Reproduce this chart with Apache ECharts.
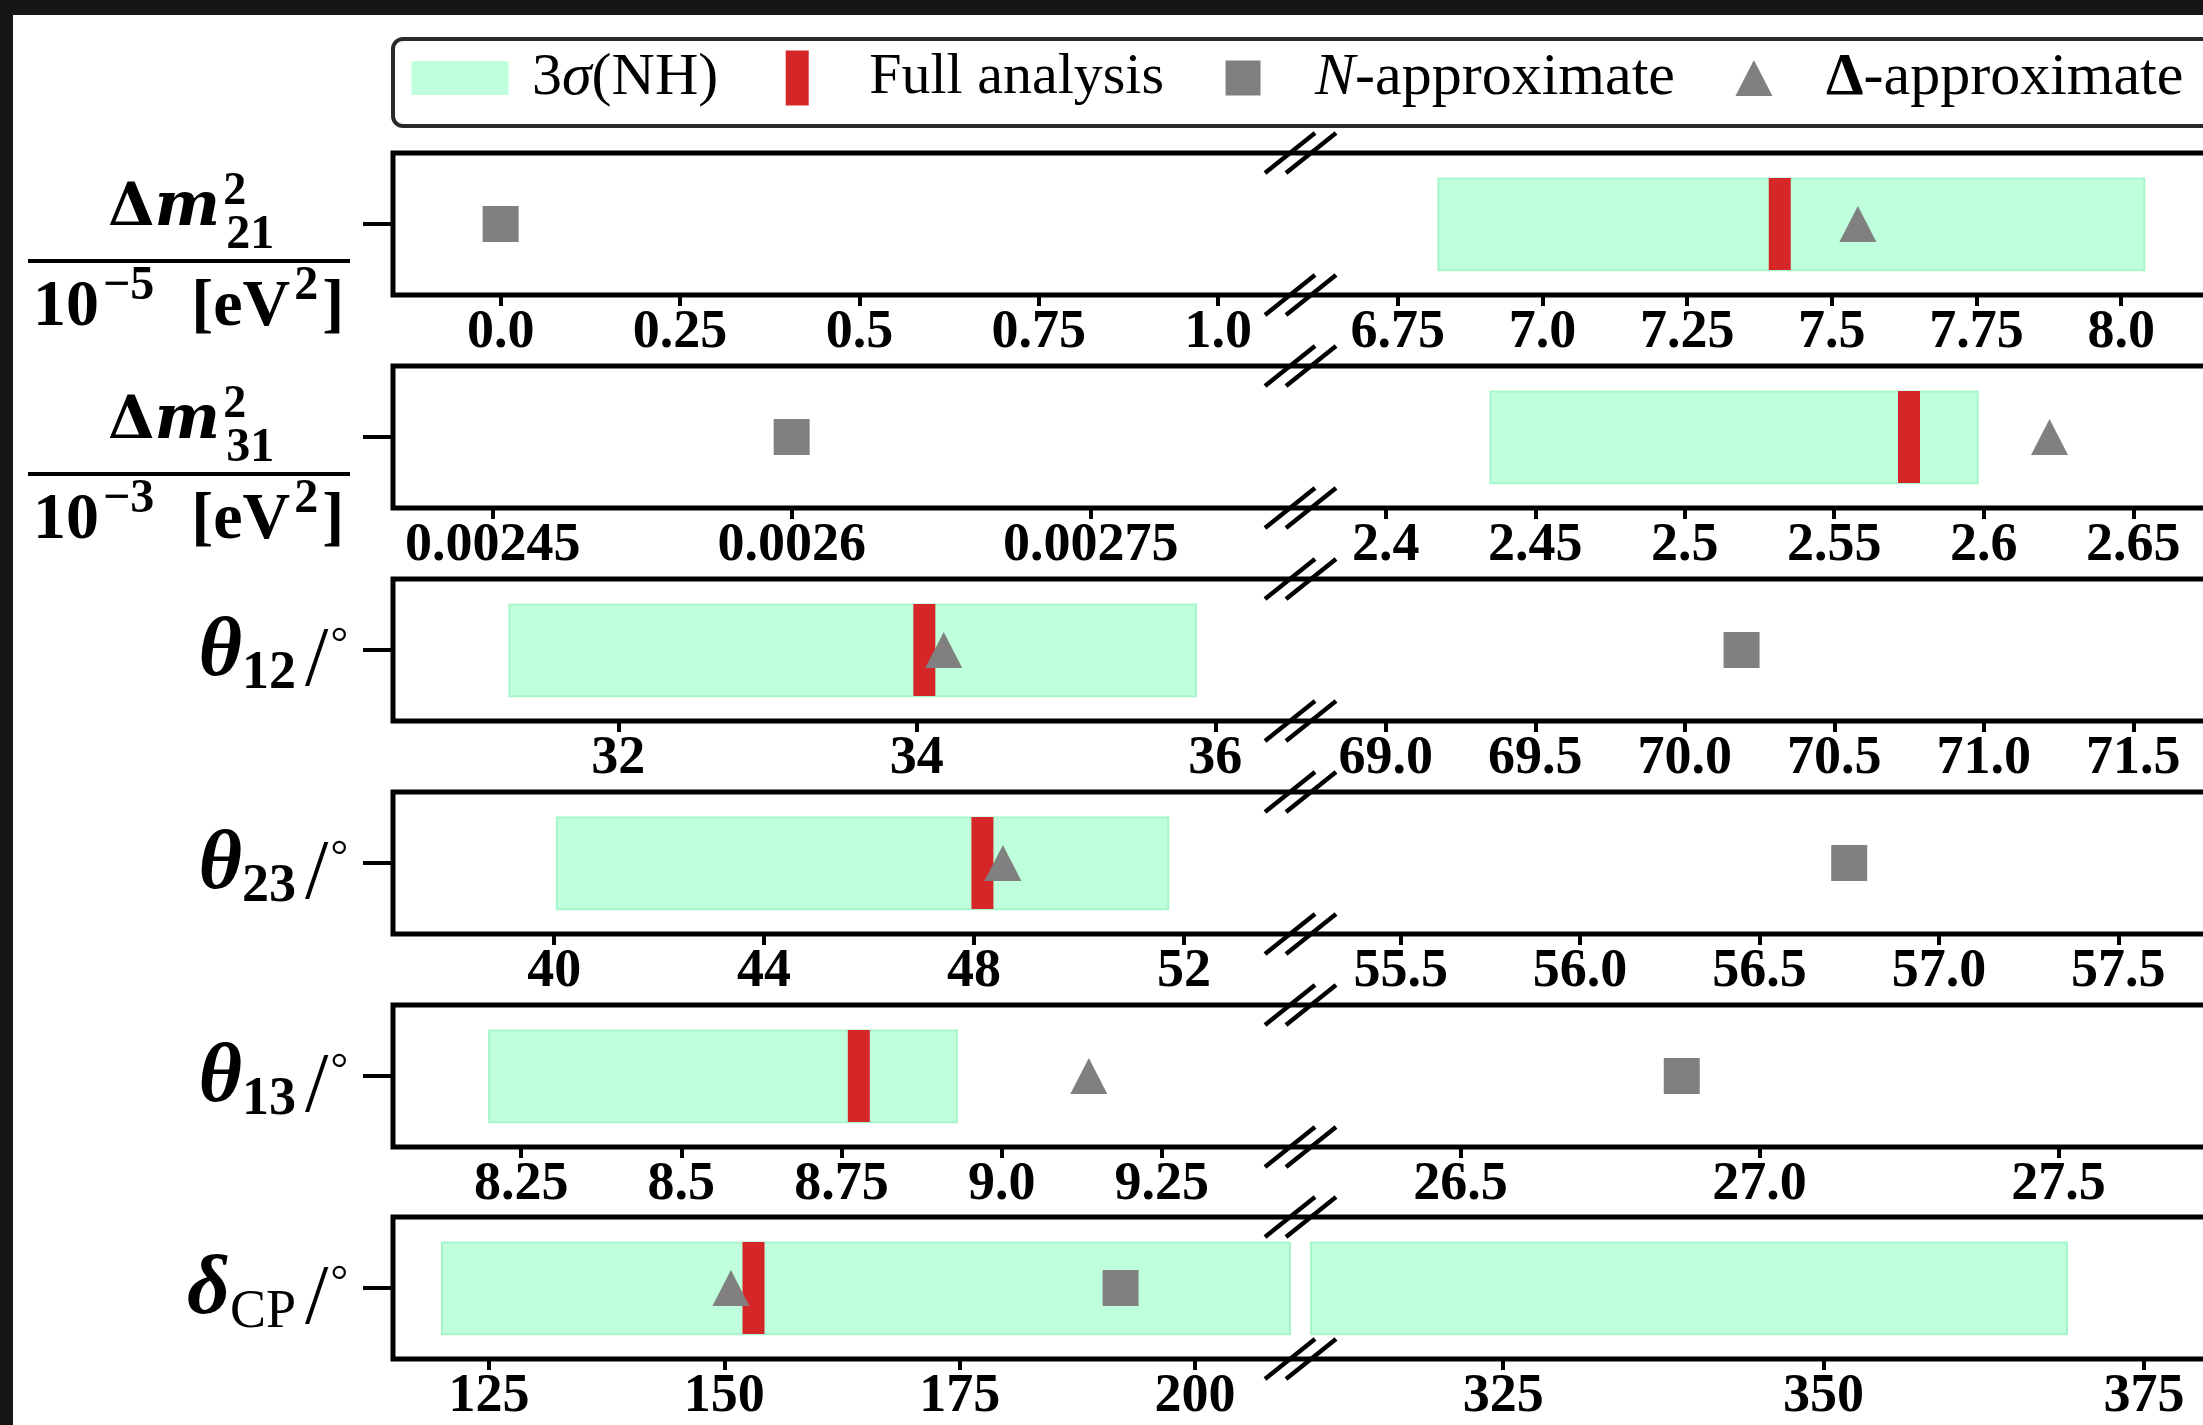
<!DOCTYPE html>
<html>
<head>
<meta charset="utf-8">
<script src="https://cdn.jsdelivr.net/npm/echarts@6/dist/echarts.min.js"></script>
<style>
html,body{margin:0;padding:0;background:#fff;}
#chart{width:2203px;height:1425px;}
</style>
</head>
<body>
<div id="chart"></div>
<script>
// ---------------- data ----------------
const parameters = ['dm21', 'dm31', 'theta12', 'theta23', 'theta13', 'deltaCP'];
const yLabels = [
  '{D|Δ}{m|m}{sup|2}{sub|21}\n{bar|}\n{d0|10}{dsup|−5}{d|  [eV}{dsup|2}{d|]}',
  '{D|Δ}{m|m}{sup|2}{sub|31}\n{bar|}\n{d0|10}{dsup|−3}{d|  [eV}{dsup|2}{d|]}',
  '{th|θ}{ts|12}{sl|/}{dg|°}',
  '{th|θ}{ts|23}{sl|/}{dg|°}',
  '{th|θ}{ts|13}{sl|/}{dg|°}',
  '{th|δ}{tsr|CP}{sl|/}{dg|°}'
];
const leftMin  = [-0.15, 0.0024, 30.49, 36.93, 8.05, 114.8];
const leftMax  = [1.1, 0.00285, 36.5, 54.02, 9.45, 210.1];
const rightMin = [6.6, 2.375, 68.75, 55.25, 26.25, 310];
const rightMax = [8.15, 2.675, 71.75, 57.75, 27.75, 380];
const leftTicks = [
  [0, 0.25, 0.5, 0.75, 1.0],
  [0.00245, 0.0026, 0.00275],
  [32, 34, 36],
  [40, 44, 48, 52],
  [8.25, 8.5, 8.75, 9.0, 9.25],
  [125, 150, 175, 200]
];
const leftTickLabels = [
  ['0.0', '0.25', '0.5', '0.75', '1.0'],
  ['0.00245', '0.0026', '0.00275'],
  ['32', '34', '36'],
  ['40', '44', '48', '52'],
  ['8.25', '8.5', '8.75', '9.0', '9.25'],
  ['125', '150', '175', '200']
];
const rightTicks = [
  [6.75, 7.0, 7.25, 7.5, 7.75, 8.0],
  [2.4, 2.45, 2.5, 2.55, 2.6, 2.65],
  [69.0, 69.5, 70.0, 70.5, 71.0, 71.5],
  [55.5, 56.0, 56.5, 57.0, 57.5],
  [26.5, 27.0, 27.5],
  [325, 350, 375]
];
const rightTickLabels = [
  ['6.75', '7.0', '7.25', '7.5', '7.75', '8.0'],
  ['2.4', '2.45', '2.5', '2.55', '2.6', '2.65'],
  ['69.0', '69.5', '70.0', '70.5', '71.0', '71.5'],
  ['55.5', '56.0', '56.5', '57.0', '57.5'],
  ['26.5', '27.0', '27.5'],
  ['325', '350', '375']
];
const band3sigmaLow  = [6.82, 2.435, 31.27, 40.05, 8.20, 120];
const band3sigmaHigh = [8.04, 2.598, 35.87, 51.7, 8.93, 369];
const fullAnalysis   = [7.41, 2.575, 34.05, 48.16, 8.777, 153.1];
const nApproximate   = [0.0, 0.0026, 70.19, 56.75, 26.87, 192.1];
const deltaApproximate = [7.545, 2.622, 34.18, 48.55, 9.136, 150.7];
const legendNames = ['3σ(NH)', 'Full analysis', 'N-approximate', 'Δ-approximate'];

// ---------------- styles / layout ----------------
const FONT = 'Liberation Serif';
const WIDE = 'DejaVu Serif';
const BAND = '#bfffdc', BAND_EDGE = '#a6f6ca', RED = '#d62728', GRAY = '#808080';
const FRAME_L = 393, BREAK_L = 1290, BREAK_R = 1311, GRID_W = 897, PANEL_H = 142;
const panelTop = i => Math.round(153.4 + i * 212.8);

const fracRich = {
  D:   {fontFamily: WIDE, fontWeight: 'bold', fontSize: 60, color: '#000', verticalAlign: 'top', height: 60, lineHeight: 72, padding: [0, 0, 0, 80]},
  m:   {fontFamily: WIDE, fontWeight: 'bold', fontStyle: 'italic', fontSize: 62, color: '#000', verticalAlign: 'top', height: 60, lineHeight: 72},
  sup: {fontFamily: FONT, fontWeight: 'bold', fontSize: 46, color: '#000', verticalAlign: 'top', height: 26, lineHeight: 72, width: 0, padding: [0, 0, 0, 3]},
  sub: {fontFamily: FONT, fontWeight: 'bold', fontSize: 48, color: '#000', verticalAlign: 'bottom', height: 31, lineHeight: 72, padding: [0, 0, 0, 3]},
  bar: {width: 322, height: 4, backgroundColor: '#000', lineHeight: 20},
  d0:  {fontFamily: FONT, fontWeight: 'bold', fontSize: 66, color: '#000', verticalAlign: 'top', height: 74, lineHeight: 76, padding: [0, 0, 0, 5]},
  dsup:{fontFamily: FONT, fontWeight: 'bold', fontSize: 48, color: '#000', verticalAlign: 'top', height: 31, lineHeight: 76, padding: [0, 4, 0, 4]},
  d:   {fontFamily: FONT, fontWeight: 'bold', fontSize: 66, color: '#000', verticalAlign: 'top', height: 74, lineHeight: 76}
};
const angRich = {
  th:  {fontFamily: FONT, fontWeight: 'bold', fontStyle: 'italic', fontSize: 84, color: '#000', verticalAlign: 'middle', lineHeight: 100},
  ts:  {fontFamily: FONT, fontWeight: 'bold', fontSize: 54, color: '#000', verticalAlign: 'bottom', height: 57, lineHeight: 100, padding: [0, 3, 0, 0]},
  tsr: {fontFamily: FONT, fontSize: 54, color: '#000', verticalAlign: 'bottom', height: 57, lineHeight: 100, padding: [0, 3, 0, 0]},
  sl:  {fontFamily: FONT, fontSize: 84, color: '#000', verticalAlign: 'bottom', height: 80, lineHeight: 100, padding: [0, 2, 0, 6]},
  dg:  {fontFamily: FONT, fontSize: 44, color: '#000', verticalAlign: 'top', height: 84, lineHeight: 100}
};

const grids = [], xAxes = [], yAxes = [], series = [], graphics = [];
const inRange = (v, a, b) => v >= a && v <= b;

parameters.forEach((p, i) => {
  const top = panelTop(i);
  const bottom = top + PANEL_H;
  [0, 1].forEach(side => {
    const gi = i * 2 + side;
    const mn = side ? rightMin[i] : leftMin[i];
    const mx = side ? rightMax[i] : leftMax[i];
    const ticks = side ? rightTicks[i] : leftTicks[i];
    const tickLabels = side ? rightTickLabels[i] : leftTickLabels[i];
    grids.push({left: side ? BREAK_R : FRAME_L, top: top, width: GRID_W, height: PANEL_H,
      containLabel: false, outerBoundsMode: 'none'});
    xAxes.push({
      type: 'value', gridIndex: gi, min: mn, max: mx,
      axisLine: {show: false, onZero: false}, splitLine: {show: false},
      axisTick: {show: true, customValues: ticks, length: 11, lineStyle: {color: '#000', width: 4}},
      axisLabel: {
        customValues: ticks, margin: 11, color: '#000', fontFamily: FONT, fontWeight: 'bold', fontSize: 54,
        formatter: v => {
          const k = ticks.findIndex(t => Math.abs(t - v) <= Math.abs(t) * 1e-9 + 1e-12);
          return k >= 0 ? tickLabels[k] : '';
        }
      }
    });
    const isFrac = yLabels[i].indexOf('\n') >= 0;
    yAxes.push({
      type: 'value', gridIndex: gi, min: 0, max: 1, show: side === 0,
      axisLine: {show: false, onZero: false}, splitLine: {show: false},
      axisTick: {show: true, customValues: [0.5], length: 30, lineStyle: {color: '#000', width: 4}},
      axisLabel: isFrac ? {
        customValues: [0.5], align: 'left', margin: 365, padding: [78, 0, 0, 0],
        formatter: () => yLabels[i], rich: fracRich
      } : {
        customValues: [0.5], align: 'right', margin: 45, padding: [6, 0, 0, 0],
        formatter: () => yLabels[i], rich: angRich
      }
    });
    // 3 sigma band
    series.push({
      type: 'custom', name: legendNames[0], xAxisIndex: gi, yAxisIndex: gi, z: 1,
      itemStyle: {color: BAND},
      data: [[band3sigmaLow[i], band3sigmaHigh[i]]],
      encode: {x: [0, 1]},
      renderItem: (params, api) => {
        const p0 = api.coord([api.value(0), 0.82]);
        const p1 = api.coord([api.value(1), 0.175]);
        const cs = params.coordSys;
        const r = echarts.graphic.clipRectByRect(
          {x: p0[0], y: p0[1], width: p1[0] - p0[0], height: p1[1] - p0[1]},
          {x: cs.x, y: cs.y, width: cs.width, height: cs.height});
        if (!r || r.width < 1) return null;
        return {type: 'rect', shape: r, style: {fill: BAND, stroke: BAND_EDGE, lineWidth: 2}};
      },
      silent: true
    });
    series.push({
      type: 'scatter', name: legendNames[1], xAxisIndex: gi, yAxisIndex: gi, z: 3,
      symbol: 'rect', symbolSize: [22, 92], itemStyle: {color: RED, opacity: 1},
      data: inRange(fullAnalysis[i], mn, mx) ? [[fullAnalysis[i], 0.5]] : [], silent: true
    });
    series.push({
      type: 'scatter', name: legendNames[2], xAxisIndex: gi, yAxisIndex: gi, z: 4,
      symbol: 'rect', symbolSize: 36, itemStyle: {color: GRAY, opacity: 1},
      data: inRange(nApproximate[i], mn, mx) ? [[nApproximate[i], 0.5]] : [], silent: true
    });
    series.push({
      type: 'scatter', name: legendNames[3], xAxisIndex: gi, yAxisIndex: gi, z: 4,
      symbol: 'triangle', symbolSize: [37, 36], itemStyle: {color: GRAY, opacity: 1},
      data: inRange(deltaApproximate[i], mn, mx) ? [[deltaApproximate[i], 0.5]] : [], silent: true
    });
  });
  // frame
  graphics.push({type: 'polyline', z: 50, silent: true,
    shape: {points: [[2215, top], [FRAME_L, top], [FRAME_L, bottom], [2215, bottom]]},
    style: {stroke: '#000', lineWidth: 5, fill: null, lineJoin: 'miter'}});
  // break marks
  [BREAK_L, BREAK_R].forEach(x => {
    [top, bottom].forEach(y => {
      graphics.push({type: 'line', z: 51, silent: true,
        shape: {x1: x - 25, y1: y + 20, x2: x + 25, y2: y - 20},
        style: {stroke: '#000', lineWidth: 4.5}});
    });
  });
});

// screenshot border
graphics.push({type: 'rect', z: 60, silent: true, shape: {x: 0, y: 0, width: 2203, height: 15}, style: {fill: '#161616'}});
graphics.push({type: 'rect', z: 60, silent: true, shape: {x: 0, y: 0, width: 13, height: 1425}, style: {fill: '#161616'}});

const legendText = {
  '3σ(NH)': '{n|3}{it|σ}{n|(NH)}',
  'Full analysis': '{fa|Full analysis}',
  'N-approximate': '{it|N}{n|-approximate}',
  'Δ-approximate': '{bd|Δ}{n|-approximate}'
};
const legendIcons = [
  'path://M0,0M134,55M18.5,10.5H115.5V44.5H18.5Z',
  'path://M0,0M134,55M55.5,0H78.5V55H55.5Z',
  'path://M0,0M134,55M49.5,10H84.5V45H49.5Z',
  'path://M0,0M134,55M67,9.5L85.5,45.5H48.5Z'
];
const legendColors = [BAND, RED, GRAY, GRAY];

const chart = echarts.init(document.getElementById('chart'), null, {renderer: 'canvas'});
chart.setOption({
  animation: false,
  backgroundColor: '#fff',
  grid: grids,
  xAxis: xAxes,
  yAxis: yAxes,
  series: series,
  graphic: graphics,
  tooltip: {show: false},
  legend: {
    left: FRAME_L, top: 39, width: 2200, orient: 'horizontal',
    itemWidth: 134, itemHeight: 55, itemGap: 12, symbolKeepAspect: true,
    padding: [9, 150, 18, 0],
    borderColor: '#2a2a2a', borderWidth: 4, borderRadius: 10, backgroundColor: '#fff',
    selectedMode: false,
    textStyle: {
      fontFamily: FONT, fontSize: 60, color: '#000',
      rich: {
        n:  {fontFamily: FONT, fontSize: 60, color: '#000'},
        fa: {fontFamily: FONT, fontSize: 58, color: '#000'},
        it: {fontFamily: FONT, fontSize: 60, fontStyle: 'italic', color: '#000'},
        bd: {fontFamily: FONT, fontSize: 60, fontWeight: 'bold', color: '#000'}
      }
    },
    formatter: name => legendText[name],
    data: legendNames.map((n, k) => ({
      name: n, icon: legendIcons[k],
      itemStyle: {color: legendColors[k], borderWidth: 0, opacity: 1}
    }))
  }
});
</script>
</body>
</html>
